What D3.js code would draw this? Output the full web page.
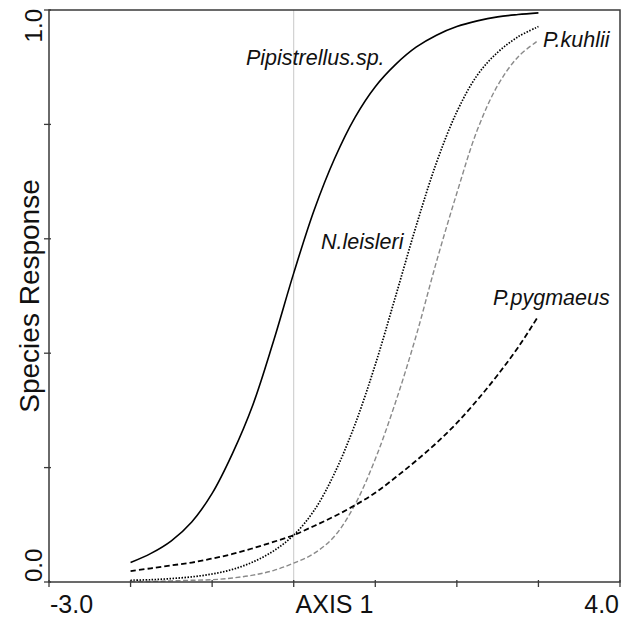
<!DOCTYPE html>
<meta charset="utf-8">
<style>
body { margin: 0; background: #fff; }
svg { font-family: Arial, "Liberation Sans", sans-serif; }
.frame { fill: none; stroke: #3a3a3a; stroke-width: 1.5; }
.tick { stroke: #3a3a3a; stroke-width: 1.3; }
.zero-line { stroke: #c8c8c8; stroke-width: 1; }
.curve { fill: none; }
.sp-label { font-style: italic; font-size: 21.5px; fill: #111; }
.tick-label { font-size: 24px; fill: #111; }
.axis-title { font-size: 25px; fill: #111; }
</style>
<svg width="627" height="617"></svg>
<script src="https://d3js.org/d3.v7.min.js"></script>
<script>

var axisScores = [-2, -1.75, -1.5, -1.25, -1, -0.75, -0.5, -0.25, 0, 0.25, 0.5,
                  0.75, 1, 1.25, 1.5, 1.75, 2, 2.25, 2.5, 2.75, 3];

var pipistrellus = [0.034, 0.05, 0.072, 0.105, 0.155, 0.225, 0.31, 0.42, 0.54, 0.65, 0.74,
                    0.812, 0.866, 0.905, 0.935, 0.956, 0.971, 0.981, 0.988, 0.992, 0.995];
var leisleri     = [0.003, 0.004, 0.006, 0.009, 0.014, 0.022, 0.035, 0.054, 0.082, 0.125, 0.19,
                    0.275, 0.38, 0.5, 0.622, 0.733, 0.822, 0.886, 0.926, 0.953, 0.971];
var kuhlii       = [0.001, 0.001, 0.002, 0.003, 0.004, 0.007, 0.012, 0.02, 0.033, 0.05, 0.08,
                    0.135, 0.215, 0.315, 0.43, 0.56, 0.68, 0.79, 0.868, 0.918, 0.947];
var pygmaeus     = [0.019, 0.024, 0.029, 0.034, 0.041, 0.049, 0.059, 0.07, 0.082, 0.098, 0.115,
                    0.134, 0.156, 0.183, 0.212, 0.243, 0.278, 0.318, 0.362, 0.41, 0.465];

var speciesNames = ["Pipistrellus.sp.", "N.leisleri", "P.kuhlii", "P.pygmaeus"];
// label anchors, in axis units [score, response]
var labelAt = [[-0.585, 0.904], [0.335, 0.582], [3.056, 0.935], [2.443, 0.484]];

var xTicks = [-3, -2, -1, 0, 1, 2, 3, 4];
var yTicks = [0, 0.2, 0.4, 0.6, 0.8, 1];

var svg = d3.select("svg"),
    margin = {top: 10, left: 49, right: 7, bottom: 35},
    width = +svg.attr("width") - margin.left - margin.right,
    height = +svg.attr("height") - margin.top - margin.bottom;

var x = d3.scaleLinear().domain([-3, 4]).range([margin.left, margin.left + width]);
var y = d3.scaleLinear().domain([0, 1]).range([margin.top + height, margin.top]);

var styles = [
  {stroke: "#000",    width: 1.6, dash: null},
  {stroke: "#000",    width: 1.7, dash: "1.5,1.5"},
  {stroke: "#8a8a8a", width: 1.4, dash: "5,2.5"},
  {stroke: "#000",    width: 1.8, dash: "5.5,3"}
];

var series = [pipistrellus, leisleri, kuhlii, pygmaeus];

// light reference line at zero
svg.append("line")
    .attr("class", "zero-line")
    .attr("x1", x(0)).attr("x2", x(0))
    .attr("y1", y(1)).attr("y2", y(0));

var line = d3.line()
    .x(function(d) { return x(d[0]); })
    .y(function(d) { return y(d[1]); })
    .curve(d3.curveCatmullRom.alpha(0.5));

svg.selectAll(".curve")
  .data(series)
  .enter().append("path")
    .attr("class", "curve")
    .attr("d", function(vals) { return line(axisScores.map(function(s, i) { return [s, vals[i]]; })); })
    .attr("stroke", function(d, i) { return styles[i].stroke; })
    .attr("stroke-width", function(d, i) { return styles[i].width; })
    .attr("stroke-dasharray", function(d, i) { return styles[i].dash; });

// box
svg.append("rect")
    .attr("class", "frame")
    .attr("x", x(-3)).attr("y", y(1))
    .attr("width", x(4) - x(-3)).attr("height", y(0) - y(1));

svg.selectAll(".xtick")
  .data(xTicks)
  .enter().append("line")
    .attr("class", "tick")
    .attr("x1", x).attr("x2", x)
    .attr("y1", y(0) - 2).attr("y2", y(0) + 5);

svg.selectAll(".ytick")
  .data(yTicks)
  .enter().append("line")
    .attr("class", "tick")
    .attr("x1", x(-3) - 5).attr("x2", x(-3) + 2)
    .attr("y1", y).attr("y2", y);

svg.append("text")
    .attr("class", "tick-label")
    .attr("x", x(-3) + 1).attr("y", 613)
    .style("font-size", "25px")
    .text(xTicks[0].toFixed(1));

svg.append("text")
    .attr("class", "tick-label")
    .attr("x", x(4) - 1).attr("y", 613)
    .attr("text-anchor", "end")
    .style("font-size", "25px")
    .text(xTicks[xTicks.length - 1].toFixed(1));

svg.append("text")
    .attr("class", "axis-title")
    .attr("x", x(0.5)).attr("y", 613)
    .attr("text-anchor", "middle")
    .text("AXIS 1");

svg.append("text")
    .attr("class", "tick-label")
    .attr("transform", "translate(42," + (y(1) - 1) + ") rotate(-90)")
    .attr("text-anchor", "end")
    .text(yTicks[yTicks.length - 1].toFixed(1));

svg.append("text")
    .attr("class", "tick-label")
    .attr("transform", "translate(42," + y(0) + ") rotate(-90)")
    .text(yTicks[0].toFixed(1));

svg.append("text")
    .attr("class", "axis-title")
    .attr("transform", "translate(39," + y(0.5) + ") rotate(-90)")
    .attr("text-anchor", "middle")
    .style("font-size", "28px")
    .text("Species Response");

svg.selectAll(".sp-label")
  .data(speciesNames)
  .enter().append("text")
    .attr("class", "sp-label")
    .attr("x", function(d, i) { return x(labelAt[i][0]); })
    .attr("y", function(d, i) { return y(labelAt[i][1]); })
    .text(function(d) { return d; });

</script>
